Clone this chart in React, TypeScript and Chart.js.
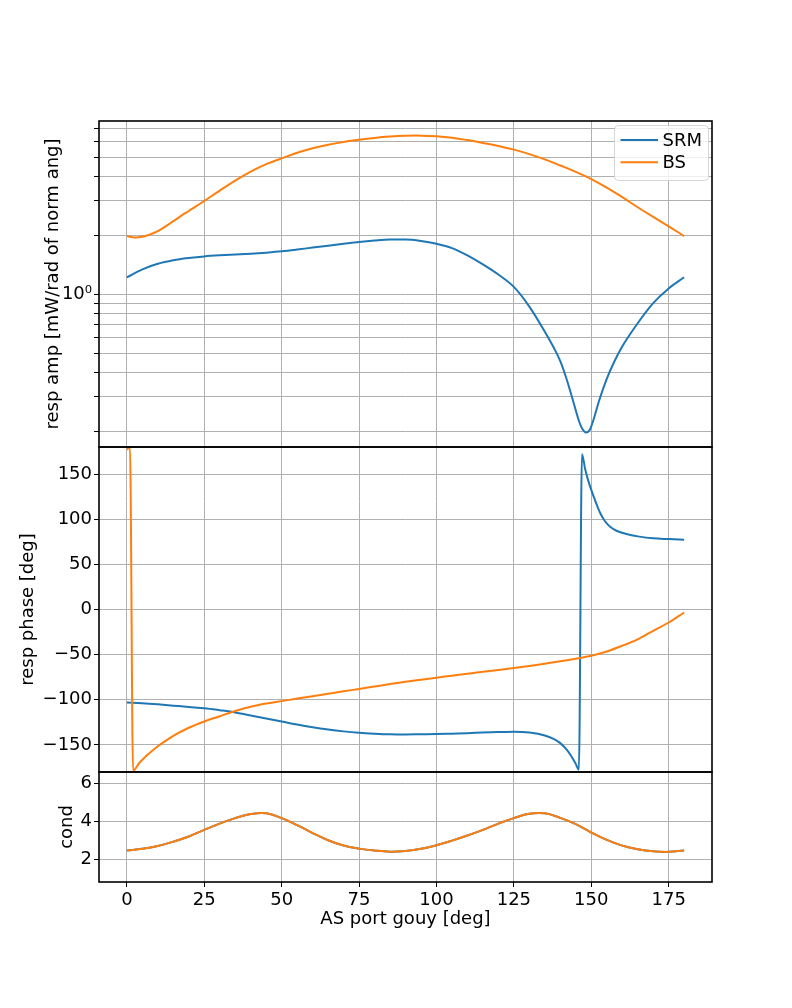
import { useEffect, useRef } from "react";
import { Chart, registerables } from "chart.js";

Chart.register(...registerables);

// ---- data ----
const xTicks = [0, 25, 50, 75, 100, 125, 150, 175];
const ampTicks = [0.2, 0.3, 0.4, 0.5, 0.6, 0.7, 0.8, 0.9, 1, 2, 3, 4, 5, 6, 7];
const phaseTicks = [-150, -100, -50, 0, 50, 100, 150];
const condTicks = [2, 4, 6];

const srmAmpX = [0, 5, 10, 15, 20, 25, 30, 35, 40, 45, 50, 55, 60, 65, 70, 75, 80, 85, 90, 95, 100, 105, 110, 115, 120, 125, 130, 135, 138, 140, 142, 144, 146, 147, 148.3, 149.5, 151, 152.5, 155, 157.5, 160, 165, 170, 175, 180];
const srmAmp = [1.22, 1.34, 1.43, 1.49, 1.53, 1.56, 1.58, 1.595, 1.61, 1.63, 1.655, 1.69, 1.73, 1.77, 1.81, 1.85, 1.88, 1.9, 1.9, 1.87, 1.81, 1.72, 1.58, 1.42, 1.26, 1.09, 0.865, 0.644, 0.53, 0.455, 0.37, 0.29, 0.226, 0.207, 0.197, 0.203, 0.236, 0.285, 0.37, 0.455, 0.541, 0.711, 0.9, 1.07, 1.22];

const bsAmpX = [0, 2.5, 5, 7.5, 10, 12.5, 15, 17.5, 20, 25, 30, 35, 40, 45, 50, 55, 60, 65, 70, 75, 80, 85, 90, 95, 100, 105, 110, 115, 120, 125, 130, 135, 140, 145, 150, 155, 160, 165, 170, 175, 180];
const bsAmp = [1.98, 1.95, 1.965, 2.02, 2.1, 2.22, 2.36, 2.51, 2.66, 2.99, 3.38, 3.8, 4.22, 4.61, 4.94, 5.27, 5.56, 5.8, 5.99, 6.14, 6.28, 6.38, 6.44, 6.45, 6.4, 6.29, 6.12, 5.92, 5.71, 5.47, 5.19, 4.88, 4.54, 4.21, 3.87, 3.5, 3.13, 2.78, 2.48, 2.22, 1.98];

const srmPhaseX = [0, 5, 10, 15, 20, 25, 30, 35, 40, 45, 50, 55, 60, 65, 70, 75, 80, 85, 90, 95, 100, 105, 110, 115, 120, 125, 130, 135, 138, 140, 142, 143, 144, 145, 146, 147, 148, 149, 150, 151, 152, 153, 154, 155, 156, 158, 160, 163, 165, 170, 175, 180];
const srmPhase = [-103.1, -103.8, -105, -106.5, -108, -109.3, -111.5, -114, -117.5, -120.8, -124, -127.5, -130.5, -133, -135, -136.5, -137.5, -138.2, -138.4, -138.2, -138, -137.5, -137, -136.3, -135.8, -135.4, -136.3, -139.5, -143.5, -148, -155, -159.5, -165, -171, -177.5, 172, 156, 143, 132.5, 123, 114, 106, 100, 95.5, 92, 87.5, 85, 82.3, 81, 78.8, 78, 77.3];

const bsPhaseX = [0, 1, 2, 4, 6, 8, 10, 12.5, 15, 20, 25, 30, 35, 40, 45, 50, 55, 60, 65, 70, 75, 80, 85, 90, 95, 100, 105, 110, 115, 120, 125, 130, 135, 140, 145, 150, 155, 160, 165, 170, 175, 180];
const bsPhase = [177, 180, -178.5, -170, -163, -157, -151.5, -145.5, -140, -131, -124, -118.2, -112.5, -107.7, -104.2, -101.5, -98.7, -96, -93.3, -90.6, -88, -85.3, -82.6, -80, -77.8, -75.5, -73.3, -71.1, -69, -67, -64.8, -62.5, -60, -57.4, -54.5, -51.2, -46.5, -40.2, -33, -23.6, -14.4, -3.3];

const condX = [0, 5, 10, 15, 20, 25, 30, 35, 40, 45, 50, 55, 60, 65, 70, 75, 80, 85, 90, 95, 100, 105, 110, 115, 120, 125, 130, 135, 140, 145, 150, 155, 160, 165, 170, 175, 180];
const condSRM = [2.46, 2.55, 2.7, 2.93, 3.2, 3.55, 3.88, 4.17, 4.38, 4.42, 4.17, 3.8, 3.38, 3.0, 2.72, 2.56, 2.46, 2.4, 2.44, 2.55, 2.74, 2.98, 3.25, 3.55, 3.88, 4.17, 4.4, 4.42, 4.18, 3.85, 3.41, 3.02, 2.72, 2.53, 2.42, 2.39, 2.46];
const condBS = [2.46, 2.55, 2.7, 2.93, 3.2, 3.55, 3.88, 4.17, 4.38, 4.42, 4.17, 3.8, 3.38, 3.0, 2.72, 2.56, 2.46, 2.4, 2.44, 2.55, 2.74, 2.98, 3.25, 3.55, 3.88, 4.17, 4.4, 4.42, 4.18, 3.85, 3.41, 3.02, 2.72, 2.53, 2.42, 2.39, 2.46];

const seriesNames = ["SRM", "BS"];
const seriesColors = ["#1f77b4", "#ff7f0e"];

const pts = (xs: number[], ys: number[]) => xs.map((x, i) => ({ x, y: ys[i] }));

const FONT = "'DejaVu Sans', 'Liberation Sans', sans-serif";
const GRID = "#b0b0b0";

export default function App() {
  const ref = useRef<HTMLCanvasElement | null>(null);

  useEffect(() => {
    if (!ref.current) return;
    Chart.defaults.font.family = FONT;
    Chart.defaults.font.size = 18;
    Chart.defaults.color = "#000";

    const framePlugin = {
      id: "frames",
      afterDatasetsDraw(chart: any) {
        const { ctx, chartArea } = chart;
        ctx.save();
        ctx.strokeStyle = "#000";
        ctx.lineWidth = 1.6;
        for (const id of ["yAmp", "yPhase", "yCond"]) {
          const s = chart.scales[id];
          ctx.strokeRect(chartArea.left, s.top, chartArea.right - chartArea.left, s.bottom - s.top);
        }
        ctx.restore();
      },
    };

    const legendPlugin = {
      id: "mplLegend",
      afterDraw(chart: any) {
        const { ctx } = chart;
        const top = chart.scales.yAmp.top;
        const w = 94;
        const h = 55;
        const x0 = chart.chartArea.right - w - 3.5;
        const y0 = top + 4.5;
        ctx.save();
        ctx.beginPath();
        ctx.roundRect(x0, y0, w, h, 4);
        ctx.fillStyle = "rgba(255,255,255,0.8)";
        ctx.fill();
        ctx.strokeStyle = "rgba(204,204,204,0.8)";
        ctx.lineWidth = 1;
        ctx.stroke();
        ctx.font = `18px ${FONT}`;
        ctx.textBaseline = "middle";
        ctx.textAlign = "left";
        seriesNames.forEach((name, i) => {
          const y = y0 + 14.5 + i * 22.3;
          ctx.strokeStyle = seriesColors[i];
          ctx.lineWidth = 2;
          ctx.beginPath();
          ctx.moveTo(x0 + 6, y);
          ctx.lineTo(x0 + 43.5, y);
          ctx.stroke();
          ctx.fillStyle = "#000";
          ctx.fillText(name, x0 + 48, y + 1);
        });
        ctx.restore();
      },
    };

    const line = (label: string, data: any, axis: string, color: string, order: number, mono: boolean) => ({
      label,
      data,
      yAxisID: axis,
      xAxisID: "x",
      borderColor: color,
      backgroundColor: color,
      borderWidth: 2,
      pointRadius: 0,
      fill: false,
      tension: 0.4,
      cubicInterpolationMode: mono ? ("monotone" as const) : ("default" as const),
      order,
    });

    const gridOpts = { color: GRID, lineWidth: 1, tickColor: "#000", tickLength: 5, drawTicks: true };
    const tickSet = (vals: number[]) => (s: any) => {
      s.ticks = vals.map((v) => ({ value: v }));
    };

    const chart = new Chart(ref.current, {
      type: "line",
      data: {
        datasets: [
          line(seriesNames[0], pts(srmAmpX, srmAmp), "yAmp", seriesColors[0], 2, true),
          line(seriesNames[1], pts(bsAmpX, bsAmp), "yAmp", seriesColors[1], 1, false),
          line(seriesNames[0], pts(srmPhaseX, srmPhase), "yPhase", seriesColors[0], 2, true),
          line(seriesNames[1], pts(bsPhaseX, bsPhase), "yPhase", seriesColors[1], 1, true),
          line(seriesNames[0], pts(condX, condSRM), "yCond", seriesColors[0], 2, false),
          line(seriesNames[1], pts(condX, condBS), "yCond", seriesColors[1], 1, false),
        ],
      },
      options: {
        animation: false,
        responsive: true,
        maintainAspectRatio: false,
        events: [],
        layout: { padding: { top: 121, right: 80, left: 0, bottom: 0 } },
        plugins: { legend: { display: false }, tooltip: { enabled: false }, title: { display: false } },
        scales: {
          x: {
            type: "linear",
            position: "bottom",
            min: -9,
            max: 189,
            afterBuildTicks: tickSet(xTicks),
            afterFit: (s: any) => {
              s.height = 126;
            },
            grid: gridOpts,
            border: { display: false },
            ticks: { padding: 3, maxRotation: 0, autoSkip: false, color: "#000", font: { size: 18 } },
            title: {
              display: true,
              text: "AS port gouy [deg]",
              color: "#000",
              font: { size: 18 },
              padding: { top: 0, bottom: 78 },
            },
          },
          yCond: {
            type: "linear",
            position: "left",
            stack: "v",
            stackWeight: 110,
            min: 0.8,
            max: 6.6,
            afterBuildTicks: tickSet(condTicks),
            afterFit: (s: any) => {
              s.width = 99;
            },
            grid: gridOpts,
            border: { display: false },
            ticks: { autoSkip: false, padding: 2, color: "#000", font: { size: 18 } },
            title: {
              display: true,
              text: "cond",
              color: "#000",
              font: { size: 18 },
              padding: { top: 56.7, bottom: 0 },
            },
          },
          yPhase: {
            type: "linear",
            position: "left",
            stack: "v",
            stackWeight: 325,
            min: -180,
            max: 180,
            afterBuildTicks: tickSet(phaseTicks),
            afterFit: (s: any) => {
              s.width = 99;
            },
            grid: gridOpts,
            border: { display: false },
            ticks: {
              autoSkip: false,
              padding: 2,
              color: "#000",
              font: { size: 18 },
              callback: (v: any) => String(v).replace("-", "\u2212"),
            },
            title: {
              display: true,
              text: "resp phase [deg]",
              color: "#000",
              font: { size: 18 },
              padding: { top: 17.5, bottom: 0 },
            },
          },
          yAmp: {
            type: "logarithmic",
            position: "left",
            stack: "v",
            stackWeight: 326,
            min: 0.166,
            max: 7.66,
            afterBuildTicks: tickSet(ampTicks),
            afterFit: (s: any) => {
              s.width = 99;
            },
            grid: gridOpts,
            border: { display: false },
            ticks: {
              autoSkip: false,
              padding: 2,
              color: "#000",
              font: { size: 18 },
              callback: (v: any) => (Number(v) === 1 ? "10\u2070" : ""),
            },
            title: {
              display: true,
              text: "resp amp [mW/rad of norm ang]",
              color: "#000",
              font: { size: 18 },
              padding: { top: 42.5, bottom: 0 },
            },
          },
        },
      } as any,
      plugins: [framePlugin, legendPlugin],
    });

    return () => chart.destroy();
  }, []);

  return (
    <div style={{ position: "absolute", left: 0, top: 0, width: 792, height: 1008, background: "#fff" }}>
      <canvas ref={ref} />
    </div>
  );
}
